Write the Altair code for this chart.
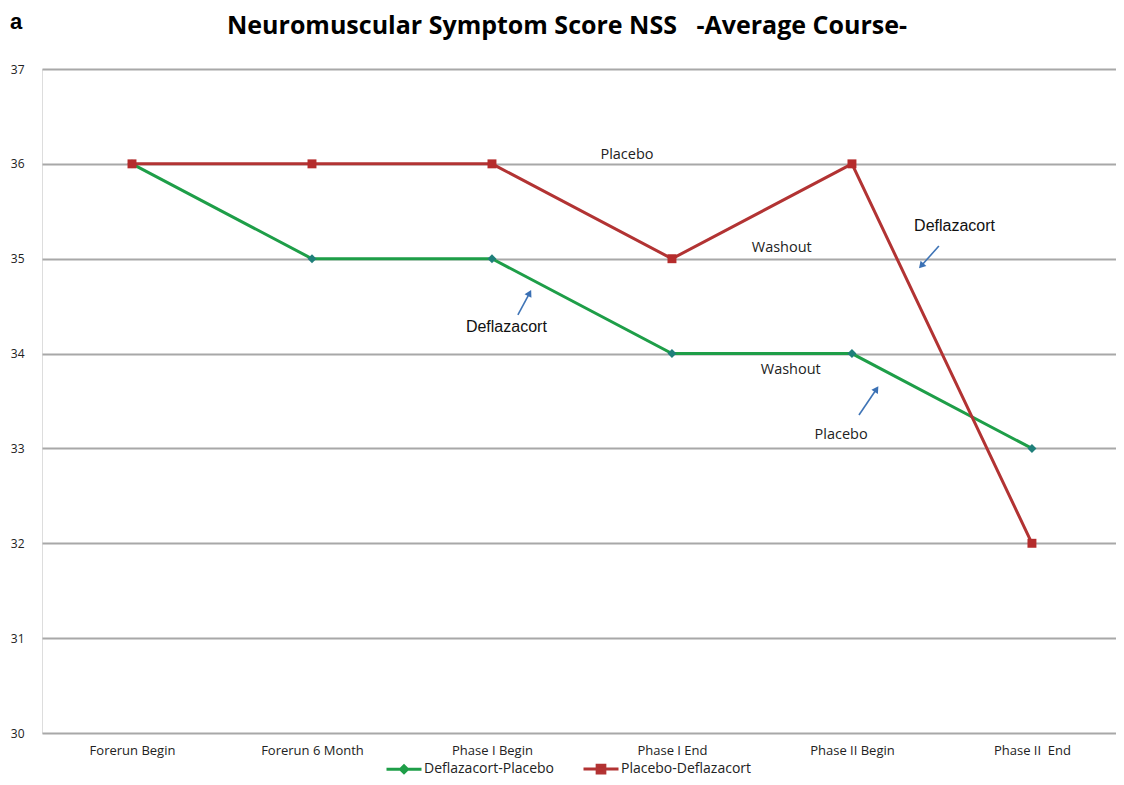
import json
import math
import altair as alt
import pandas as pd

# ---------------- data ----------------
categories = ["Forerun Begin", "Forerun 6 Month", "Phase I Begin",
              "Phase I End", "Phase II Begin", "Phase II\u00a0 End"]
series_names = ["Deflazacort-Placebo", "Placebo-Deflazacort"]
defl_placebo = [36, 35, 35, 34, 34, 33]
placebo_defl = [36, 36, 36, 35, 36, 32]

# annotations (data coordinates: category index, score)
ann_text = ["Placebo", "Washout", "Deflazacort", "Deflazacort", "Washout", "Placebo"]
ann_x = [2.75, 3.61, 4.57, 2.08, 3.66, 3.94]
ann_y = [36.09, 35.11, 35.345, 34.28, 33.83, 33.14]

arrow_tail_x = [2.144, 4.483, 4.039]
arrow_tail_y = [34.407, 35.134, 33.352]
arrow_head_x = [2.206, 4.389, 4.133]
arrow_head_y = [34.628, 34.934, 33.616]

title_text = "Neuromuscular Symptom Score NSS\u00a0\u00a0 -Average Course-"
panel_text = "a"

# ---------------- layout ----------------
W, H = 1074, 664
X_DOMAIN = [-0.5, 5.467]
Y_DOMAIN = [30, 37]
px_x = W / (X_DOMAIN[1] - X_DOMAIN[0])
px_y = H / (Y_DOMAIN[1] - Y_DOMAIN[0])

rows = []
for name, vals in zip(series_names, [defl_placebo, placebo_defl]):
    for i, v in enumerate(vals):
        rows.append({"idx": i, "value": v, "series": name})
df = pd.DataFrame(rows)

ann_df = pd.DataFrame({"idx": ann_x, "value": ann_y, "label": ann_text})
arr_rows = []
for tx, ty, hx, hy in zip(arrow_tail_x, arrow_tail_y, arrow_head_x, arrow_head_y):
    dx = (hx - tx) * px_x
    dy = -(hy - ty) * px_y
    ang = math.degrees(math.atan2(dx, -dy)) % 360
    arr_rows.append({"idx": tx, "value": ty, "idx2": hx, "value2": hy, "angle": ang})
arr_df = pd.DataFrame(arr_rows)

label_expr = json.dumps(categories) + "[datum.value]"

x_axis = alt.Axis(values=list(range(len(categories))), labelExpr=label_expr,
                  grid=False, domain=False, ticks=False, title=None,
                  labelFont="Open Sans", labelFontSize=13, labelColor="#222222",
                  labelPadding=11, labelFlush=False, labelOverlap=False, labelBound=False)
y_axis = alt.Axis(values=list(range(30, 38)), grid=True, gridColor="#a8a8a8",
                  gridWidth=2, domain=False, ticks=False, title=None,
                  labelFont="Open Sans", labelFontSize=12, labelColor="#222222",
                  labelPadding=18)


def xenc(field="idx"):
    return alt.X(f"{field}:Q", scale=alt.Scale(domain=X_DOMAIN, nice=False, zero=False),
                 axis=x_axis)


def yenc(field="value"):
    return alt.Y(f"{field}:Q", scale=alt.Scale(domain=Y_DOMAIN, nice=False, zero=False),
                 axis=y_axis)


line_colors = ["#1e9e48", "#b23333"]
marker_colors = ["#1f7f7a", "#b52c2c"]
legend_shapes = ["M-1,0H1M-0.2,0L0,-0.2L0.2,0L0,0.2Z",
                 "M-1,0H1M-0.22,-0.22H0.22V0.22H-0.22Z"]

lines = alt.Chart(df).mark_line(strokeWidth=3).encode(
    x=xenc(), y=yenc(),
    color=alt.Color("series:N", scale=alt.Scale(domain=series_names, range=line_colors),
                    legend=None),
    order="idx:Q",
)

points = alt.Chart(df).mark_point(filled=True, opacity=1, size=80).encode(
    x=xenc(), y=yenc(),
    fill=alt.Fill("series:N", scale=alt.Scale(domain=series_names, range=marker_colors),
                  legend=None),
    shape=alt.Shape("series:N", scale=alt.Scale(domain=series_names,
                                                range=["diamond", "square"]), legend=None),
)

leg = alt.Legend(title=None, orient="none", direction="horizontal",
                 legendX=343, legendY=681, labelFont="Open Sans",
                 labelFontSize=14, labelColor="#222222",
                 labelOffset=1, columnPadding=22, symbolSize=1225,
                 symbolStrokeWidth=3, symbolOpacity=1, padding=0)

legend_layer = alt.Chart(df).mark_point(filled=False, opacity=0, strokeWidth=3).encode(
    x=xenc(), y=yenc(),
    color=alt.Color("series:N", scale=alt.Scale(domain=series_names, range=line_colors),
                    legend=leg),
    fill=alt.Fill("series:N", scale=alt.Scale(domain=series_names, range=marker_colors),
                  legend=leg),
    shape=alt.Shape("series:N", scale=alt.Scale(domain=series_names, range=legend_shapes),
                    legend=leg),
    size=alt.value(1225),
)

ann_calibri = alt.Chart(ann_df).transform_filter("datum.label != 'Deflazacort'").mark_text(
    font="Open Sans", fontSize=14.5, color="#222222", align="center", baseline="middle"
).encode(x=xenc(), y=yenc(), text="label:N")

ann_arial = alt.Chart(ann_df).transform_filter("datum.label == 'Deflazacort'").mark_text(
    font="Liberation Sans", fontSize=16, color="#111111", align="center", baseline="middle"
).encode(x=xenc(), y=yenc(), text="label:N")

arrow_shafts = alt.Chart(arr_df).mark_rule(color="#3f74b6", strokeWidth=1.6).encode(
    x=xenc(), y=yenc(), x2="idx2:Q", y2="value2:Q")

arrow_heads = alt.Chart(arr_df).mark_point(shape="triangle", filled=True, size=60,
                                           color="#3a70b4", opacity=1).encode(
    x=xenc("idx2"), y=yenc("value2"), angle=alt.Angle("angle:Q", scale=None))

panel_letter = alt.Chart(pd.DataFrame({"t": [panel_text]})).mark_text(
    font="Liberation Sans", fontWeight="bold", fontSize=22, align="left",
    baseline="alphabetic", color="black"
).encode(x=alt.value(-32), y=alt.value(-40), text="t:N")

title_mark = alt.Chart(pd.DataFrame({"t": [title_text]})).mark_text(
    font="Open Sans", fontWeight="bold", fontSize=25, align="center",
    baseline="alphabetic", color="black"
).encode(x=alt.value(525), y=alt.value(-35), text="t:N")

chart = alt.layer(lines, points, arrow_shafts, arrow_heads, ann_calibri, ann_arial,
                  legend_layer, panel_letter, title_mark).resolve_scale(
    color="independent", fill="independent", shape="independent"
).properties(
    width=W, height=H,
    autosize=alt.AutoSizeParams(type="none"),
    padding={"left": 34, "top": 61, "right": 0, "bottom": 44},
).configure_view(stroke=None).configure(background="white")

chart.save("out.html", embed_options={"renderer": "svg", "actions": False})
